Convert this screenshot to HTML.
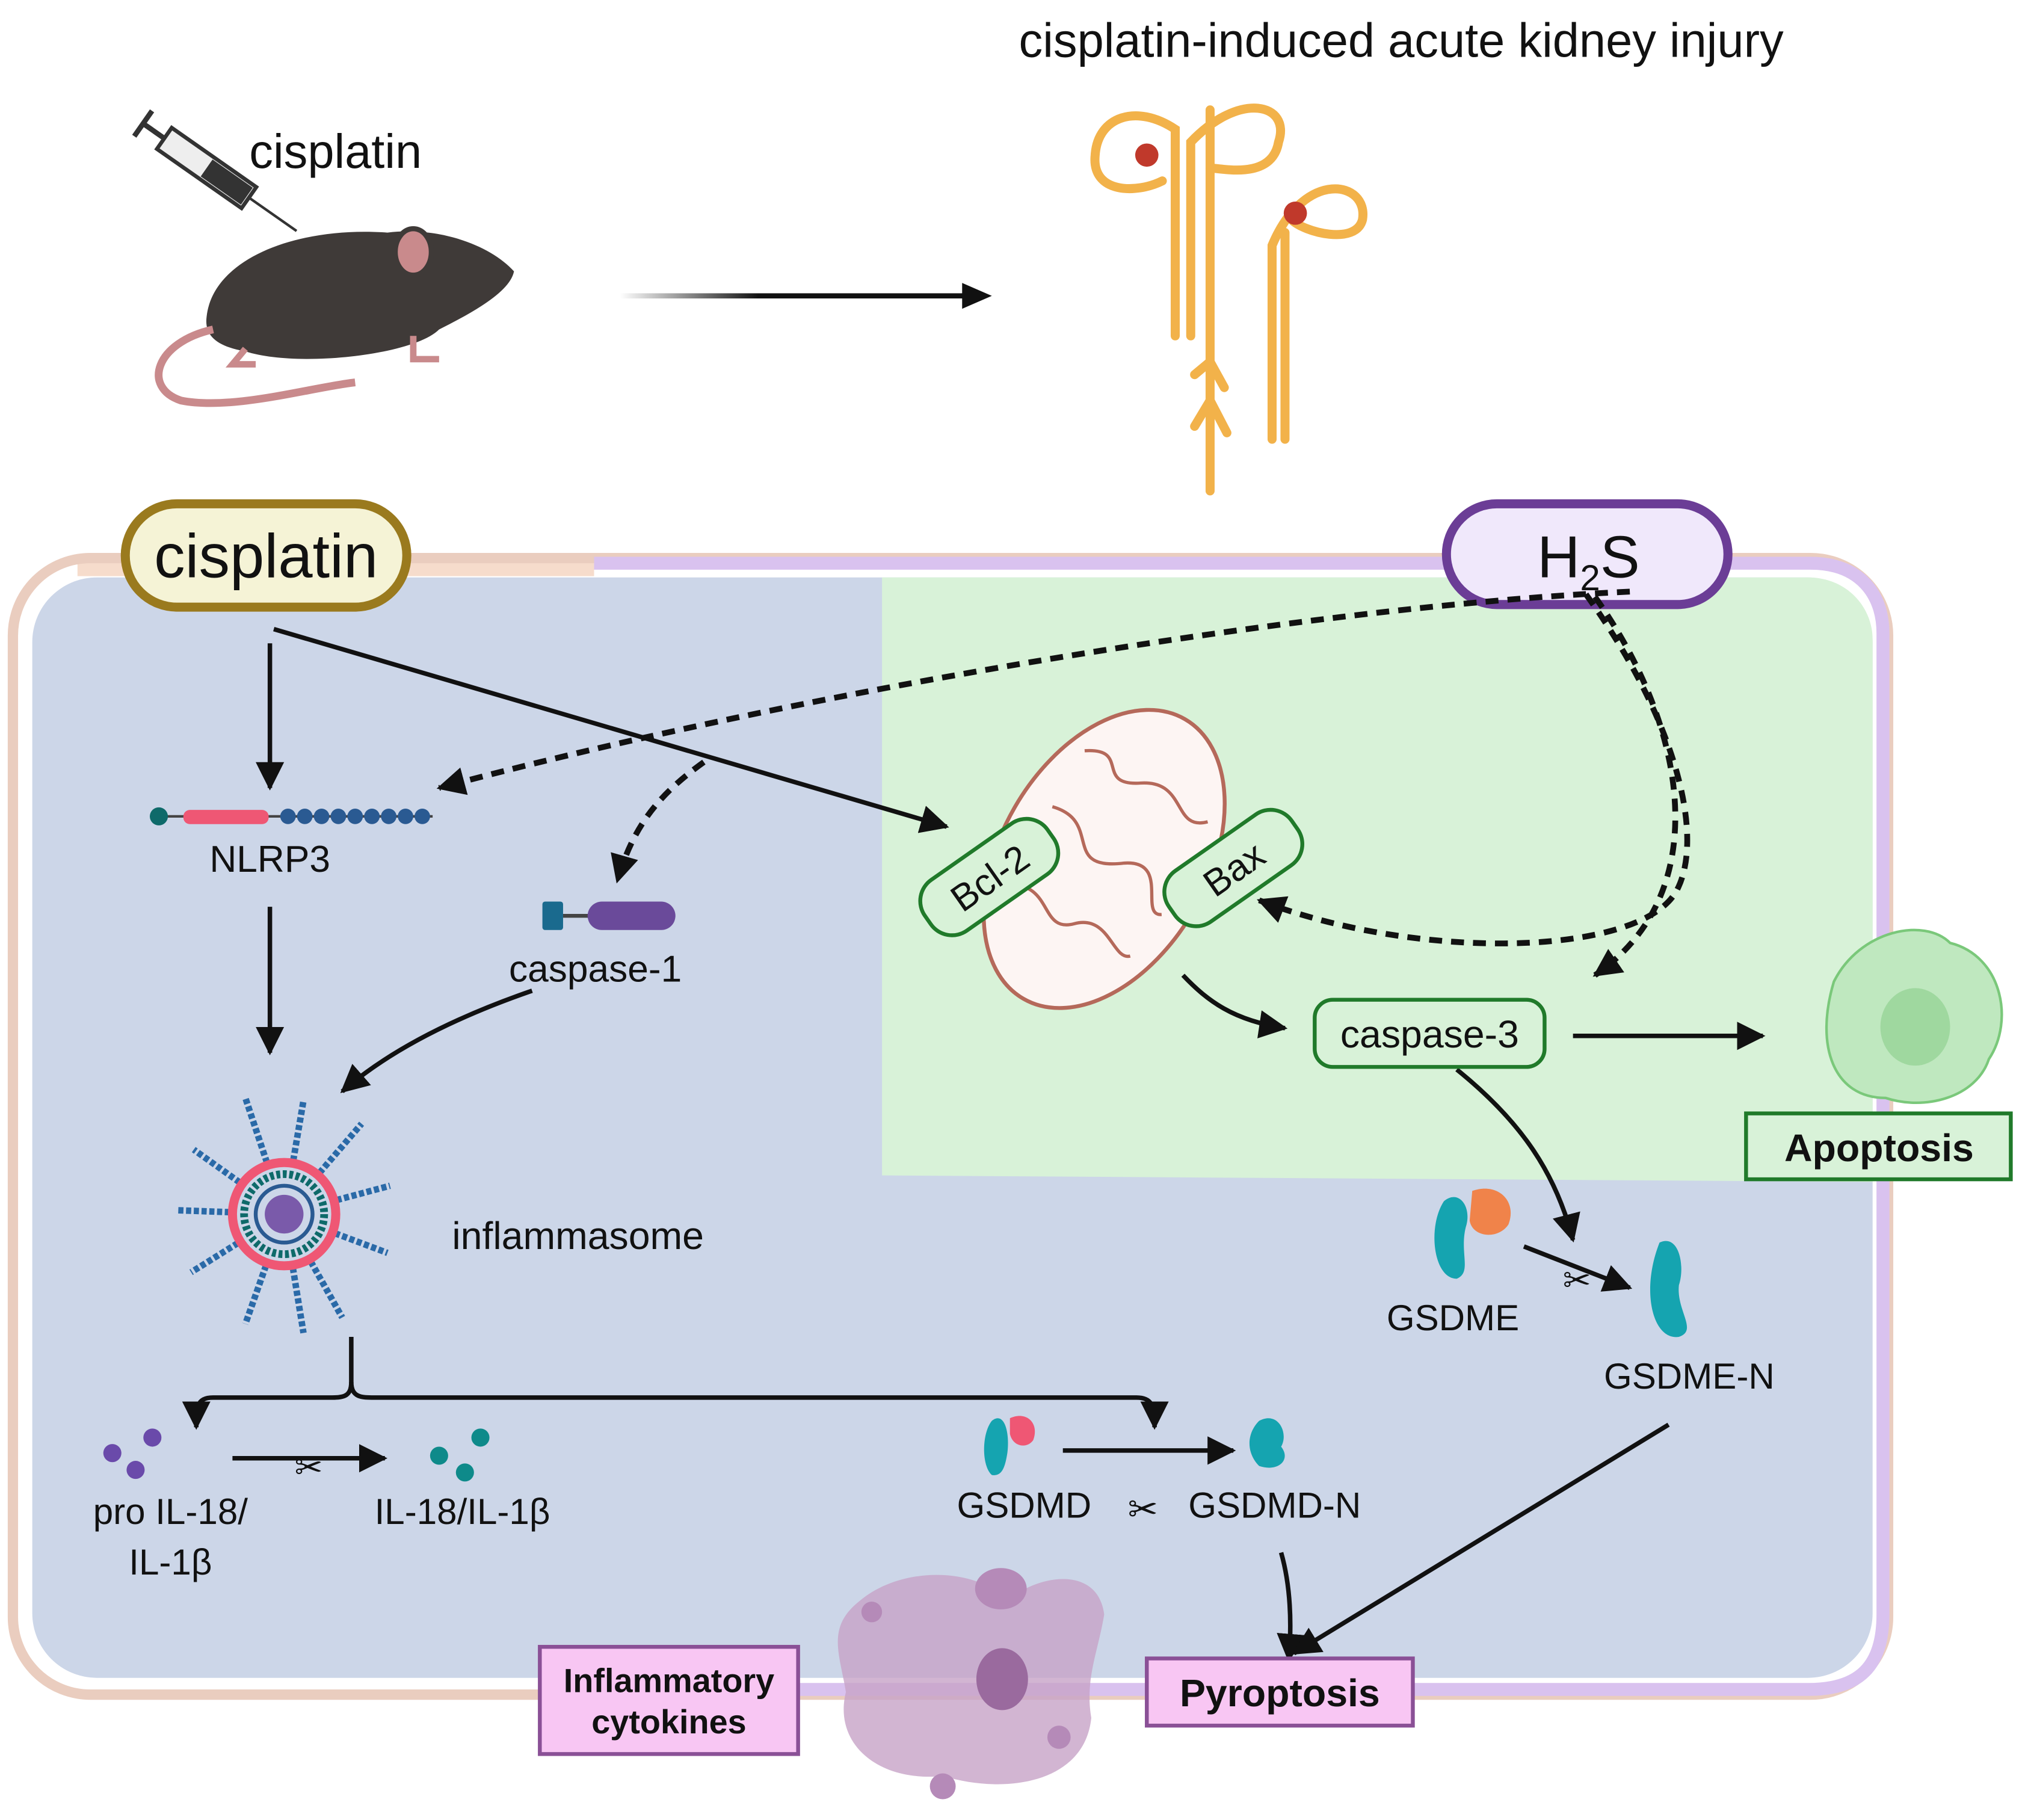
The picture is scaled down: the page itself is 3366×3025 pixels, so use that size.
<!DOCTYPE html>
<html><head><meta charset="utf-8"><style>
html,body{margin:0;padding:0;background:#fff}
svg{display:block}
text{font-family:"Liberation Sans",sans-serif;fill:#111}
</style></head><body>
<svg width="3366" height="3025" viewBox="0 0 1568 1409" xmlns="http://www.w3.org/2000/svg">
<defs>
<marker id="a2" markerWidth="24" markerHeight="22" refX="20" refY="11" orient="auto" markerUnits="userSpaceOnUse"><path d="M0,0 L22,11 L0,22 z" fill="#111"/></marker>
<linearGradient id="fade" x1="0" x2="1" y1="0" y2="0"><stop offset="0" stop-color="#111" stop-opacity="0"/><stop offset="0.4" stop-color="#111"/></linearGradient>
</defs>
<!-- title -->
<text x="1085" y="44" font-size="37" text-anchor="middle">cisplatin-induced acute kidney injury</text>
<!-- mouse -->
<path d="M160,245 C165,200 230,175 300,180 C340,175 380,190 398,210 C395,225 370,240 340,255 C320,275 230,285 190,272 C168,268 158,260 160,245 z" fill="#3f3a38"/>
<ellipse cx="320" cy="195" rx="14" ry="18" fill="#c98a8c" stroke="#3f3a38" stroke-width="4"/>
<path d="M165,255 C120,265 110,300 140,310 C180,318 240,300 275,296" fill="none" stroke="#c98a8c" stroke-width="6"/>
<path d="M190,270 l-10,12 l18,0 M320,260 l0,18 l20,0" stroke="#c98a8c" stroke-width="5" fill="none"/>
<!-- syringe -->
<g transform="rotate(35 160 130)"><rect x="120" y="120" width="80" height="20" fill="#eee" stroke="#333" stroke-width="3"/><rect x="160" y="122" width="38" height="16" fill="#333"/><line x1="200" y1="130" x2="245" y2="130" stroke="#333" stroke-width="2"/><line x1="100" y1="130" x2="120" y2="130" stroke="#333" stroke-width="4"/><line x1="100" y1="118" x2="100" y2="142" stroke="#333" stroke-width="4"/></g>
<text x="193" y="130" font-size="37">cisplatin</text>
<!-- arrow -->
<rect x="480" y="227" width="268" height="4" fill="url(#fade)"/>
<path d="M745,219 L768,229 L745,239 z" fill="#111"/>
<!-- nephron -->
<g fill="none" stroke="#f2b24a" stroke-width="7" stroke-linecap="round">
<path d="M937,85 L937,380"/>
<path d="M910,260 L910,100 C880,80 850,90 848,120 C845,150 880,150 900,140"/>
<path d="M922,260 L922,110 C960,70 1000,80 990,110 C985,140 945,130 937,130"/>
<path d="M985,340 L985,190 C1010,130 1060,140 1055,170 C1050,190 1010,180 1000,170"/>
<path d="M995,340 L995,180"/>
<path d="M925,330 L937,310 L950,335 M925,290 L937,280 L948,300"/>
</g>
<circle cx="888" cy="120" r="9" fill="#c0392b"/><circle cx="1003" cy="165" r="9" fill="#c0392b"/>
<!-- cell -->
<path d="M60,432 L460,432 L460,446 L60,446 z" fill="#f6dccc"/>
<rect x="10" y="432" width="1452" height="880" rx="60" fill="none" stroke="#eacdbf" stroke-width="8"/>
<path d="M460,436 L1402,436 C1440,436 1458,460 1458,490 L1458,1250 C1458,1290 1440,1308 1400,1308 L460,1308" fill="none" stroke="#d9c2ef" stroke-width="10"/>
<rect x="25" y="447" width="1425" height="852" rx="50" fill="#ccd6e8"/>
<path d="M683,447 L1400,447 C1430,447 1450,470 1450,495 L1450,915 L683,910 z" fill="#d8f2d8"/>
<!-- pills -->
<rect x="97" y="390" width="218" height="80" rx="40" fill="#f5f3d6" stroke="#9a7a1e" stroke-width="7"/>
<text x="206" y="447" font-size="48" text-anchor="middle">cisplatin</text>
<rect x="1120" y="390" width="218" height="78" rx="39" fill="#f0e8fb" stroke="#6b3d96" stroke-width="7"/>
<text x="1230" y="447" font-size="46" text-anchor="middle">H<tspan font-size="28" dy="10">2</tspan><tspan dy="-10">S</tspan></text>
<!-- arrows -->
<g stroke="#111" stroke-width="3.5" fill="none">
<line x1="209" y1="498" x2="209" y2="610" marker-end="url(#a2)"/>
<line x1="212" y1="487" x2="733" y2="640" marker-end="url(#a2)"/>
<line x1="209" y1="702" x2="209" y2="815" marker-end="url(#a2)"/>
<path d="M412,767 C360,785 305,810 265,845" marker-end="url(#a2)"/>
<path d="M916,755 C935,775 955,790 995,796" marker-end="url(#a2)"/>
<line x1="1218" y1="802" x2="1365" y2="802" marker-end="url(#a2)"/>
<path d="M1128,828 C1180,870 1205,910 1218,960" marker-end="url(#a2)"/>
<line x1="1180" y1="965" x2="1262" y2="997" marker-end="url(#a2)"/>
<path d="M272,1035 L272,1070 C272,1082 265,1082 255,1082 L165,1082 C152,1082 152,1090 152,1105" marker-end="url(#a2)"/>
<path d="M272,1070 C272,1082 280,1082 290,1082 L880,1082 C893,1082 894,1090 894,1105" marker-end="url(#a2)"/>
<line x1="180" y1="1129" x2="298" y2="1129" marker-end="url(#a2)"/>
<line x1="823" y1="1123" x2="955" y2="1123" marker-end="url(#a2)"/>
<path d="M992,1202 C1000,1230 1000,1260 998,1285" marker-end="url(#a2)"/>
<line x1="1292" y1="1103" x2="1002" y2="1280" marker-end="url(#a2)"/>
</g>
<g stroke="#111" stroke-width="4.5" fill="none" stroke-dasharray="10 7">
<path d="M1262,458 C1000,470 600,540 340,610" marker-end="url(#a2)"/>
<path d="M545,590 C510,615 490,640 478,682" marker-end="url(#a2)"/>
<path d="M1228,460 C1300,560 1320,650 1298,690 C1270,740 1100,745 975,697" marker-end="url(#a2)"/>
<path d="M1235,462 C1305,560 1330,690 1235,755" marker-end="url(#a2)"/>
</g>
<!-- NLRP3 -->
<line x1="120" y1="632" x2="335" y2="632" stroke="#444" stroke-width="2"/>
<circle cx="123" cy="632" r="7" fill="#0e6a6a"/>
<rect x="142" y="627" width="66" height="11" rx="5" fill="#ef5774"/>
<g fill="#2a5a92"><circle cx="223" cy="632" r="6"/><circle cx="236" cy="632" r="6"/><circle cx="249" cy="632" r="6"/><circle cx="262" cy="632" r="6"/><circle cx="275" cy="632" r="6"/><circle cx="288" cy="632" r="6"/><circle cx="301" cy="632" r="6"/><circle cx="314" cy="632" r="6"/><circle cx="327" cy="632" r="6"/></g>
<text x="209" y="675" font-size="29" text-anchor="middle">NLRP3</text>
<!-- caspase-1 -->
<rect x="420" y="698" width="16" height="22" rx="2" fill="#1a6a8e"/><line x1="436" y1="709" x2="456" y2="709" stroke="#444" stroke-width="3"/>
<rect x="455" y="698" width="68" height="22" rx="11" fill="#6a4a9a"/>
<text x="461" y="760" font-size="29" text-anchor="middle">caspase-1</text>
<!-- inflammasome -->
<g transform="translate(220,940)">
<g stroke="#2a6aa8" stroke-width="5" stroke-dasharray="4 2">
<line x1="0" y1="0" x2="-30" y2="-90"/><line x1="0" y1="0" x2="15" y2="-88"/><line x1="0" y1="0" x2="60" y2="-70"/><line x1="0" y1="0" x2="82" y2="-22"/><line x1="0" y1="0" x2="80" y2="30"/><line x1="0" y1="0" x2="45" y2="80"/><line x1="0" y1="0" x2="15" y2="92"/><line x1="0" y1="0" x2="-30" y2="85"/><line x1="0" y1="0" x2="-72" y2="45"/><line x1="0" y1="0" x2="-82" y2="-3"/><line x1="0" y1="0" x2="-70" y2="-50"/></g>
<circle r="40" fill="#ccd6e8" stroke="#ef5774" stroke-width="7"/>
<circle r="31" fill="none" stroke="#0e6a6a" stroke-width="6" stroke-dasharray="3 2"/>
<circle r="22" fill="#ccd6e8" stroke="#2a5a92" stroke-width="3"/>
<circle r="15" fill="#7a5aaa"/>
</g>
<text x="350" y="967" font-size="30">inflammasome</text>
<!-- mitochondria -->
<g transform="rotate(30 855 665)">
<ellipse cx="855" cy="665" rx="80" ry="125" fill="#fdf5f3" stroke="#b5695a" stroke-width="3"/>
<path d="M800,600 C830,580 820,620 850,600 C880,580 890,620 910,600 M800,650 C840,640 830,690 870,660 C900,640 900,690 915,680 M800,720 C830,700 840,740 860,720 C880,700 900,730 910,720" fill="none" stroke="#b5695a" stroke-width="2.5"/>
</g>
<g transform="rotate(-35 766 679)"><rect x="708" y="655" width="116" height="48" rx="20" fill="#d8f2d8" stroke="#207a2a" stroke-width="3"/><text x="766" y="690" font-size="29" text-anchor="middle">Bcl-2</text></g>
<g transform="rotate(-35 955 672)"><rect x="897" y="648" width="116" height="48" rx="20" fill="#d8f2d8" stroke="#207a2a" stroke-width="3"/><text x="955" y="683" font-size="29" text-anchor="middle">Bax</text></g>
<rect x="1018" y="774" width="178" height="52" rx="14" fill="#d8f2d8" stroke="#207a2a" stroke-width="3"/>
<text x="1107" y="811" font-size="30" text-anchor="middle">caspase-3</text>
<!-- apoptotic cell -->
<path d="M1420,760 C1440,720 1490,710 1510,730 C1550,740 1560,790 1540,820 C1530,850 1490,860 1460,850 C1420,850 1405,810 1420,760 z" fill="#bfe8bf" stroke="#7ac87a" stroke-width="2"/>
<ellipse cx="1483" cy="795" rx="27" ry="30" fill="#9fd89f"/>
<rect x="1352" y="862" width="205" height="51" fill="#d8f2d8" stroke="#207a2a" stroke-width="3"/>
<text x="1455" y="899" font-size="30" font-weight="bold" text-anchor="middle">Apoptosis</text>
<!-- GSDME -->
<path d="M1118,930 C1130,920 1140,935 1135,950 C1130,970 1140,985 1128,990 C1110,990 1105,950 1118,930 z" fill="#15a4b0"/>
<path d="M1140,922 C1160,915 1175,930 1168,948 C1160,960 1140,958 1138,945 z" fill="#f0834a"/>
<text x="1125" y="1030" font-size="28" text-anchor="middle">GSDME</text>
<path d="M1285,962 C1300,955 1305,980 1300,995 C1298,1015 1315,1030 1300,1035 C1280,1038 1270,1000 1285,962 z" fill="#15a4b0"/>
<text x="1308" y="1075" font-size="28" text-anchor="middle">GSDME-N</text>
<text x="1221" y="1000" font-size="26" text-anchor="middle">✂</text>
<!-- IL -->
<g fill="#6a4aaa"><circle cx="87" cy="1125" r="7"/><circle cx="118" cy="1113" r="7"/><circle cx="105" cy="1138" r="7"/></g>
<g fill="#0e8a8a"><circle cx="340" cy="1127" r="7"/><circle cx="372" cy="1113" r="7"/><circle cx="360" cy="1140" r="7"/></g>
<text x="239" y="1145" font-size="26" text-anchor="middle">✂</text>
<text x="132" y="1180" font-size="28" text-anchor="middle">pro IL-18/</text>
<text x="132" y="1219" font-size="28" text-anchor="middle">IL-1β</text>
<text x="358" y="1180" font-size="28" text-anchor="middle">IL-18/IL-1β</text>
<!-- GSDMD -->
<path d="M768,1100 C778,1092 782,1110 780,1125 C778,1138 775,1143 768,1142 C760,1135 760,1110 768,1100 z" fill="#15a4b0"/>
<path d="M782,1098 C795,1092 805,1102 800,1115 C795,1122 784,1120 782,1110 z" fill="#ef5774"/>
<path d="M975,1100 C990,1092 998,1110 992,1120 C1000,1130 990,1140 975,1135 C965,1125 965,1110 975,1100 z" fill="#15a4b0"/>
<text x="793" y="1175" font-size="28" text-anchor="middle">GSDMD</text>
<text x="885" y="1178" font-size="28" text-anchor="middle">✂</text>
<text x="987" y="1175" font-size="28" text-anchor="middle">GSDMD-N</text>
<!-- pyroptotic cell -->
<path d="M665,1240 C700,1210 760,1215 780,1240 C800,1220 850,1210 855,1250 C850,1280 840,1300 845,1330 C840,1380 780,1390 730,1375 C680,1380 645,1350 655,1310 C650,1280 640,1260 665,1240 z" fill="#c7a2c7" opacity="0.8"/>
<ellipse cx="775" cy="1230" rx="20" ry="16" fill="#b58ab8"/>
<ellipse cx="776" cy="1300" rx="20" ry="24" fill="#9a6a9e"/>
<circle cx="730" cy="1383" r="10" fill="#b58ab8"/><circle cx="675" cy="1248" r="8" fill="#b58ab8"/><circle cx="820" cy="1345" r="9" fill="#b58ab8"/>
<rect x="418" y="1275" width="200" height="83" fill="#f8c6f3" stroke="#8a5096" stroke-width="3"/>
<text x="518" y="1310" font-size="26" font-weight="bold" text-anchor="middle">Inflammatory</text>
<text x="518" y="1342" font-size="26" font-weight="bold" text-anchor="middle">cytokines</text>
<rect x="888" y="1284" width="206" height="52" fill="#f8c6f3" stroke="#8a5096" stroke-width="3"/>
<text x="991" y="1321" font-size="30" font-weight="bold" text-anchor="middle">Pyroptosis</text>
</svg>
</body></html>
